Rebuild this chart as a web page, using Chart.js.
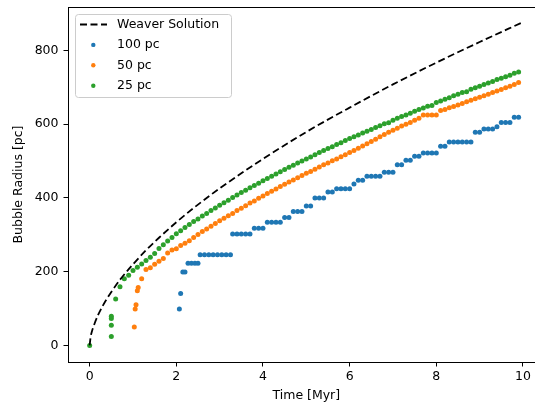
<!DOCTYPE html>
<html>
<head>
<meta charset="utf-8">
<script src="https://cdn.jsdelivr.net/npm/chart.js@4.4.1/dist/chart.umd.min.js"></script>
<style>
  body { margin: 0; background: #fff; }
  #wrap { width: 535px; height: 406px; overflow: hidden; }
</style>
</head>
<body>
<div id="wrap"><canvas id="myChartBubble" width="560" height="406"></canvas></div>
<script>
// weaver solution
const weaverTime = [0, 0.02, 0.05, 0.1, 0.2, 0.3, 0.4, 0.5, 0.7, 1.0, 1.3, 1.6, 2.0, 2.5, 3.0, 3.5, 4, 5, 6, 7, 8, 9, 10];
const weaverRadius = [0, 21, 37, 55, 84, 107, 127, 145, 178, 220, 258, 292, 334, 382, 426, 467, 506, 579, 645, 708, 767, 823, 877];

// 100 pc
const blueTime = [2.07, 2.1, 2.15, 2.2, 2.27, 2.35, 2.43, 2.5, 2.55, 2.65, 2.75, 2.85, 2.95, 3.05, 3.15, 3.25,
    3.3, 3.4, 3.5, 3.6, 3.7, 3.8, 3.9, 4.0, 4.1, 4.2, 4.3, 4.4, 4.5, 4.6, 4.7, 4.8, 4.9, 5.0, 5.1, 5.2, 5.3, 5.4,
    5.5, 5.6, 5.7, 5.8, 5.9, 6.0, 6.1, 6.2, 6.3, 6.4, 6.5, 6.6, 6.7, 6.8, 6.9, 7.0, 7.1, 7.2, 7.3, 7.4, 7.5, 7.6,
    7.7, 7.8, 7.9, 8.0, 8.1, 8.2, 8.3, 8.4, 8.5, 8.6, 8.7, 8.8, 8.9, 9.0, 9.1, 9.2, 9.3, 9.4, 9.5, 9.6, 9.7, 9.8, 9.9];
const blueRadius = [99, 141, 199, 199, 223, 223, 223, 223, 246, 246, 246, 246, 246, 246, 246, 246,
    302, 302, 302, 302, 302, 318, 318, 318, 334, 334, 334, 334, 347, 347, 363, 363, 363, 378, 378, 400, 400, 400,
    416, 416, 425, 425, 425, 425, 438, 448, 448, 459, 459, 459, 459, 470, 470, 470, 490, 490, 502, 502, 513, 513,
    522, 522, 522, 522, 540, 540, 552, 552, 552, 552, 552, 552, 578, 578, 587, 587, 587, 593, 605, 605, 605, 619, 619];

// 50 pc
const orangeTime = [1.03, 1.05, 1.07, 1.1, 1.12, 1.2, 1.3, 1.4, 1.5, 1.6, 1.7, 1.8, 1.9, 2.0,
    2.1, 2.2, 2.3, 2.4, 2.5, 2.6, 2.7, 2.8, 2.9, 3.0, 3.1, 3.2, 3.3, 3.4, 3.5, 3.6, 3.7, 3.8, 3.9, 4.0,
    4.1, 4.2, 4.3, 4.4, 4.5, 4.6, 4.7, 4.8, 4.9, 5.0, 5.1, 5.2, 5.3, 5.4, 5.5, 5.6, 5.7, 5.8, 5.9, 6.0,
    6.1, 6.2, 6.3, 6.4, 6.5, 6.6, 6.7, 6.8, 6.9, 7.0, 7.1, 7.2, 7.3, 7.4, 7.5, 7.6, 7.7, 7.8, 7.9, 8.0,
    8.1, 8.2, 8.3, 8.4, 8.5, 8.6, 8.7, 8.8, 8.9, 9.0, 9.1, 9.2, 9.3, 9.4, 9.5, 9.6, 9.7, 9.8, 9.9];
const orangeRadius = [50, 99, 110, 148, 157, 181, 206, 211, 220, 228, 236, 251, 259, 262,
    271, 277, 284, 293, 301, 309, 316, 323, 331, 338, 345, 352, 358, 366, 372, 379, 386, 392, 399, 405,
    412, 418, 424, 431, 437, 443, 449, 455, 461, 467, 472, 478, 484, 490, 495, 501, 506, 512, 517, 523,
    529, 535, 541, 547, 553, 559, 566, 572, 578, 584, 589, 595, 600, 605, 611, 616, 625, 625, 625, 625,
    637, 640, 645, 648, 652, 656, 661, 665, 669, 673, 677, 681, 686, 690, 694, 699, 703, 708, 713];

// 25 pc
const greenTime = [0, 0.5, 0.5, 0.5, 0.5, 0.6, 0.7, 0.8, 0.9, 1.0,
    1.1, 1.2, 1.3, 1.4, 1.5, 1.6, 1.7, 1.8, 1.9, 2.0, 2.1, 2.2, 2.3, 2.4, 2.5, 2.6, 2.7, 2.8, 2.9, 3.0,
    3.1, 3.2, 3.3, 3.4, 3.5, 3.6, 3.7, 3.8, 3.9, 4.0, 4.1, 4.2, 4.3, 4.4, 4.5, 4.6, 4.7, 4.8, 4.9, 5.0,
    5.1, 5.2, 5.3, 5.4, 5.5, 5.6, 5.7, 5.8, 5.9, 6.0, 6.1, 6.2, 6.3, 6.4, 6.5, 6.6, 6.7, 6.8, 6.9, 7.0,
    7.1, 7.2, 7.3, 7.4, 7.5, 7.6, 7.7, 7.8, 7.9, 8.0, 8.1, 8.2, 8.3, 8.4, 8.5, 8.6, 8.7, 8.8, 8.9, 9.0,
    9.1, 9.2, 9.3, 9.4, 9.5, 9.6, 9.7, 9.8, 9.9];
const greenRadius = [0, 24, 55, 73, 79, 126, 159, 181, 190, 203,
    212, 221, 230, 239, 249, 263, 273, 283, 293, 303, 311, 320, 328, 336, 343, 351, 358, 366, 373, 380,
    387, 394, 401, 408, 415, 421, 428, 434, 440, 447, 453, 459, 465, 471, 477, 483, 489, 495, 500, 506,
    511, 517, 523, 529, 534, 539, 545, 550, 556, 561, 566, 571, 576, 581, 586, 591, 596, 601, 604, 611,
    616, 621, 625, 630, 635, 640, 644, 649, 651, 659, 663, 668, 672, 677, 681, 686, 688, 695, 699, 703,
    708, 712, 716, 721, 725, 729, 733, 738, 742];

const xTicks = [0, 2, 4, 6, 8, 10];
const yTicks = [0, 200, 400, 600, 800];

function toPoints(xs, ys) {
    return xs.map((x, i) => ({ x: x, y: ys[i] }));
}

const FONT = 'DejaVu Sans';
Chart.defaults.font.family = FONT;
Chart.defaults.font.size = 12.5;
Chart.defaults.color = '#000';

// matplotlib-like legend box in the top-left corner + top/right spines
const boxLegend = {
    id: 'boxLegend',
    afterDraw(chart) {
        const c = chart.ctx;
        const a = chart.chartArea;
        c.save();
        c.strokeStyle = '#000';
        c.lineWidth = 1;
        c.beginPath();
        c.moveTo(a.left, Math.round(a.top) + 0.5);
        c.lineTo(a.right, Math.round(a.top) + 0.5);
        c.moveTo(Math.round(a.right) + 0.5, a.top);
        c.lineTo(Math.round(a.right) + 0.5, a.bottom);
        c.stroke();

        const bx = 75.5, by = 14.5, bw = 156, bh = 83;
        c.beginPath();
        c.roundRect(bx, by, bw, bh, 3);
        c.fillStyle = 'rgba(255,255,255,0.8)';
        c.fill();
        c.strokeStyle = '#cccccc';
        c.stroke();

        c.font = '12.5px ' + FONT;
        c.textBaseline = 'middle';
        c.fillStyle = '#000';
        chart.data.datasets.forEach((ds, i) => {
            const y = 24.5 + i * 20.4;
            if (ds.showLine) {
                c.strokeStyle = ds.borderColor;
                c.lineWidth = ds.borderWidth;
                c.setLineDash(ds.borderDash);
                c.beginPath();
                c.moveTo(80, y);
                c.lineTo(107, y);
                c.stroke();
                c.setLineDash([]);
            } else {
                c.fillStyle = ds.backgroundColor;
                c.beginPath();
                c.arc(93.3, y, 2.2, 0, Math.PI * 2);
                c.fill();
            }
            c.fillStyle = '#000';
            c.fillText(ds.label, 117, y);
        });
        c.restore();
    }
};

document.addEventListener('DOMContentLoaded', function () {
    const ctx = document.getElementById('myChartBubble').getContext('2d');
    const bubbleChart = new Chart(ctx, {
        type: 'scatter',
        data: {
            datasets: [{
                label: 'Weaver Solution',
                data: toPoints(weaverTime, weaverRadius),
                showLine: true,
                borderColor: '#000000',
                borderWidth: 1.8,
                borderDash: [7, 3.5],
                pointRadius: 0,
                cubicInterpolationMode: 'monotone',
                order: 0
            }, {
                label: '100 pc',
                data: toPoints(blueTime, blueRadius),
                backgroundColor: '#1f77b4',
                borderColor: '#1f77b4',
                borderWidth: 0,
                pointRadius: 2.5,
                order: 3
            }, {
                label: '50 pc',
                data: toPoints(orangeTime, orangeRadius),
                backgroundColor: '#ff7f0e',
                borderColor: '#ff7f0e',
                borderWidth: 0,
                pointRadius: 2.5,
                order: 2
            }, {
                label: '25 pc',
                data: toPoints(greenTime, greenRadius),
                backgroundColor: '#2ca02c',
                borderColor: '#2ca02c',
                borderWidth: 0,
                pointRadius: 2.5,
                order: 1
            }]
        },
        options: {
            responsive: false,
            animation: false,
            layout: { padding: { top: 7, right: 15.4, left: 0, bottom: 0 } },
            plugins: {
                legend: { display: false },
                tooltip: { enabled: false }
            },
            scales: {
                x: {
                    type: 'linear',
                    min: -0.5,
                    max: 10.5,
                    afterBuildTicks: s => { s.ticks = xTicks.map(v => ({ value: v })); },
                    afterFit: s => { s.height = 44; },
                    grid: { drawOnChartArea: false, drawTicks: true, tickLength: 4.5, tickColor: '#000' },
                    border: { color: '#000', width: 1 },
                    ticks: { padding: 3, color: '#000', maxRotation: 0 },
                    title: { display: true, text: 'Time [Myr]', color: '#000', padding: { top: 0, bottom: 3 } }
                },
                y: {
                    type: 'linear',
                    min: -45,
                    max: 918,
                    afterBuildTicks: s => { s.ticks = yTicks.map(v => ({ value: v })); },
                    afterFit: s => { s.width = 68; s.paddingTop = 0; s.paddingBottom = 0; },
                    grid: { drawOnChartArea: false, drawTicks: true, tickLength: 4.5, tickColor: '#000' },
                    border: { color: '#000', width: 1 },
                    ticks: { padding: 5, color: '#000' },
                    title: { display: true, text: 'Bubble Radius [pc]', color: '#000', padding: { top: 11, bottom: 0 } }
                }
            }
        },
        plugins: [boxLegend]
    });
});
</script>
</body>
</html>
